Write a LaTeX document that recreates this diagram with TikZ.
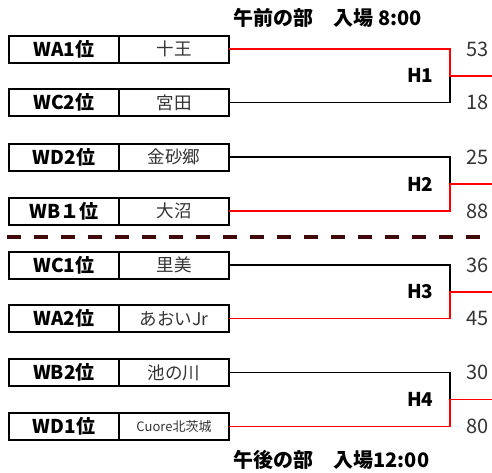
\documentclass[tikz,border=0pt]{standalone}
\usepackage{fontspec}
\setmainfont{Noto Sans CJK JP}
\usetikzlibrary{positioning}
\definecolor{divider}{RGB}{64,8,8}
\tikzset{
    rank/.style={draw, line width=2pt, outer sep=0pt, minimum width=110pt,
        minimum height=27pt, inner sep=0pt, font=\bfseries\fontsize{19}{19}\selectfont},
    team/.style={rank, font=\fontsize{17.5}{17.5}\selectfont, text=black!80},
    score/.style={anchor=east, font=\fontsize{20}{20}\selectfont, text=black!80},
    game/.style={anchor=east, font=\bfseries\fontsize{19}{19}\selectfont},
    title/.style={anchor=west, font=\bfseries\fontsize{20}{20}\selectfont},
    win/.style={red, line width=1.8pt},
    lose/.style={black, line width=1.8pt}
}
\begin{document}
\begin{tikzpicture}[x=1pt, y=-1pt]
    \useasboundingbox (0,0) rectangle (492,472);

    \foreach \r/\y/\rk/\tm/\pt in {1/49/WA1位/十王/53, 2/102.5/WC2位/宮田/18,
        3/157/WD2位/金砂郷/25, 4/211/WB１位/大沼/88,
        5/265/WC1位/里美/36, 6/318.5/WA2位/あおいJr/45,
        7/372.5/WB2位/池の川/30, 8/426.5/WD1位/{{\fontsize{13}{13}\selectfont Cuore北茨城}}/80}
    {
        \node[rank] (r\r) at (64,\y) {\rk};
        \node[team, right=0pt of r\r] (t\r) {\tm};
        \node[score] (s\r) at (492,\y) {\pt};
    }

    \coordinate (jx) at (450,0);
    \coordinate (ox) at (492,0);
    \coordinate (gx) at (437,0);
    \foreach \g/\a/\b in {1/1/2, 2/3/4, 3/5/6, 4/7/8}
    {
        \path (t\a.east) -- (t\b.east) coordinate[midway] (c\g);
        \coordinate (m\g) at (jx |- c\g);
        \coordinate (o\g) at (ox |- c\g);
        \node[game] (h\g) at (gx |- c\g) {H\g};
    }

    \draw[lose] (t2.east) -| (m1);
    \draw[win] (t1.east) -| (m1) -- (o1);
    \draw[lose] (t3.east) -| (m2);
    \draw[win] (t4.east) -| (m2) -- (o2);
    \draw[lose] (t5.east) -| (m3);
    \draw[win] (t6.east) -| (m3) -- (o3);
    \draw[lose] (t7.east) -| (m4);
    \draw[win] (t8.east) -| (m4) -- (o4);

    \draw[divider, line width=3.5pt, dash pattern=on 14pt off 13pt] (7,237) -- (492,237);

    \node[title] (am) at (230,18) {午前の部　入場 8:00};
    \node[title] (pm) at (230,460) {午後の部　入場12:00};
\end{tikzpicture}
\end{document}
